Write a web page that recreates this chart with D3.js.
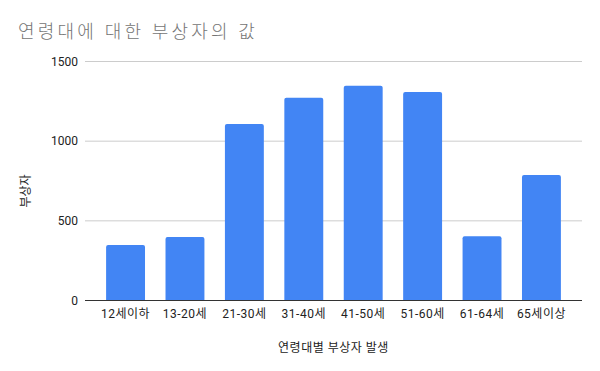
<!DOCTYPE html>
<html><head><meta charset="utf-8">
<script src="https://cdn.jsdelivr.net/npm/d3@7"></script>
<style>body{margin:0;background:#fff}svg{display:block}text{font-family:Roboto,"Noto Sans CJK KR",sans-serif}</style>
</head><body>
<svg id="c" width="600" height="371"></svg>
<script>
const categories = ["12세이하","13-20세","21-30세","31-40세","41-50세","51-60세","61-64세","65세이상"];
const values = [345, 395, 1105, 1270, 1345, 1305, 400, 785];
const yTicks = [0, 500, 1000, 1500];
const title = "연령대에 대한 부상자의 값";
const xTitle = "연령대별 부상자 발생";
const yTitle = "부상자";

const svg = d3.select("#c");
svg.append("rect").attr("width",600).attr("height",371).attr("fill","#fff");
const x = d3.scaleBand().domain(categories).range([96, 571]).paddingInner(0.345).paddingOuter(0.17);
const y = d3.scaleLinear().domain([0,1500]).range([300, 61]);

// grid
svg.append("g").selectAll("line").data(yTicks.filter(d=>d>0)).join("line")
  .attr("x1",85).attr("x2",582).attr("y1",d=>y(d)+0.5).attr("y2",d=>y(d)+0.5)
  .attr("stroke","#cccccc").attr("stroke-width",1);

// bars
svg.append("g").selectAll("path").data(values).join("path")
  .attr("fill","#4285f4")
  .attr("d",(d,i)=>{
    const x0=x(categories[i]), w=x.bandwidth(), y0=y(d), y1=y(0), r=2;
    return `M${x0},${y1}V${y0+r}Q${x0},${y0} ${x0+r},${y0}H${x0+w-r}Q${x0+w},${y0} ${x0+w},${y0+r}V${y1}Z`;
  });

// baseline
svg.append("line").attr("x1",85).attr("x2",582).attr("y1",y(0)+0.5).attr("y2",y(0)+0.5)
  .attr("stroke","#333").attr("stroke-width",1);

// y tick labels
svg.append("g").selectAll("text").data(yTicks).join("text")
  .attr("x",78).attr("y",d=>y(d)+4.5).attr("text-anchor","end")
  .attr("font-size",12).attr("fill","#222").text(d=>d);

// x tick labels
svg.append("g").selectAll("text").data(categories).join("text")
  .attr("x",d=>x(d)+x.bandwidth()/2).attr("y",318).attr("text-anchor","middle")
  .attr("font-size",12).attr("fill","#222").attr("letter-spacing",0.5).text(d=>d);

// titles
svg.append("text").attr("x",18).attr("y",38).attr("font-size",18).attr("font-weight",300)
  .attr("letter-spacing",3.2).attr("fill","#757575").text(title);
svg.append("text").attr("x",333.5).attr("y",352).attr("text-anchor","middle")
  .attr("font-size",12).attr("fill","#222").attr("letter-spacing",0.5).text(xTitle);
svg.append("text").attr("transform","translate(30,191) rotate(-90)").attr("text-anchor","middle")
  .attr("font-size",12).attr("fill","#222").text(yTitle);
</script>
</body></html>
